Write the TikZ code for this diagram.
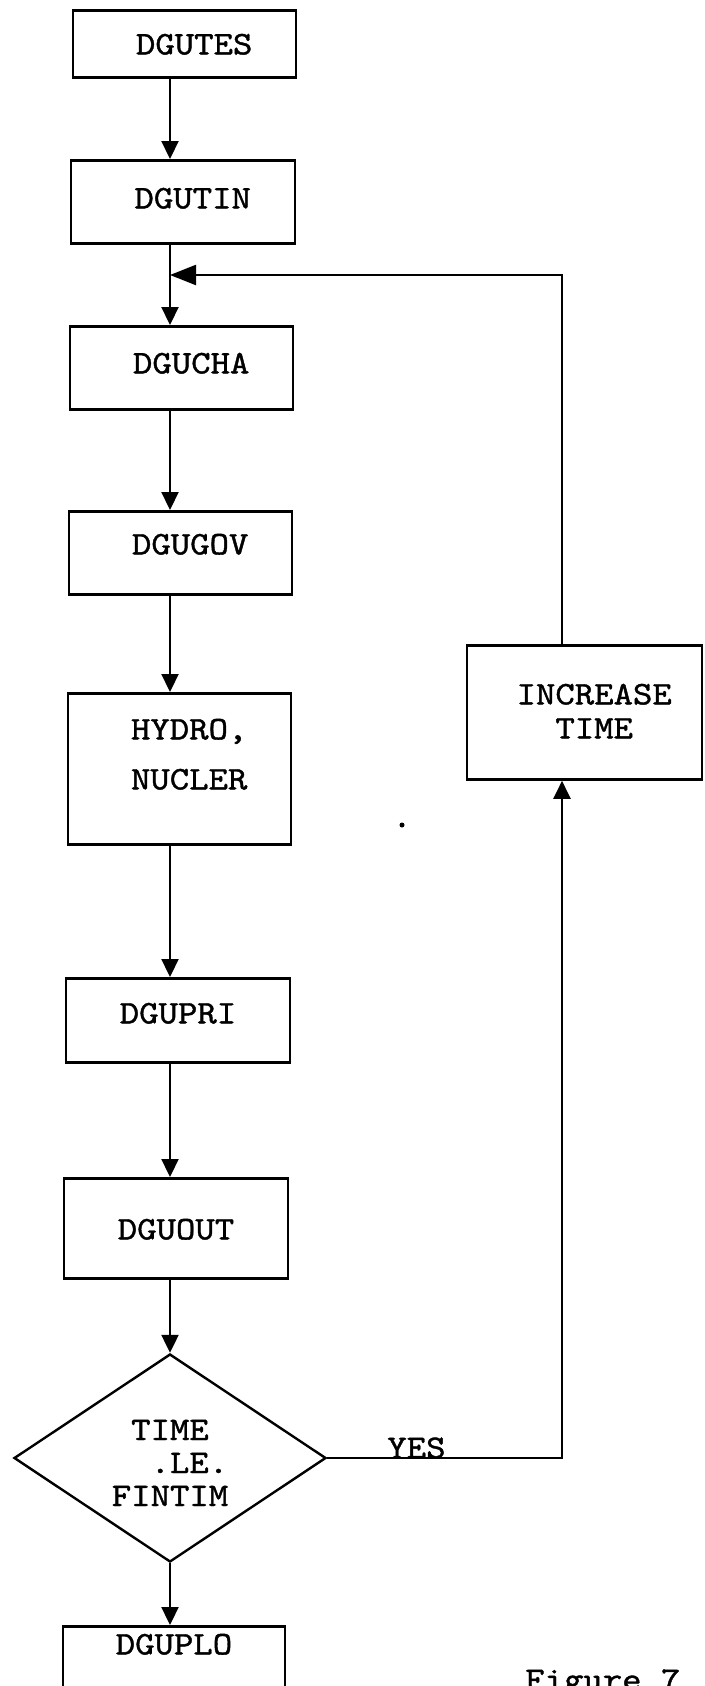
\documentclass[tikz,border=0pt]{standalone}
\usepackage{fontspec}
\newfontfamily\typer{lmmono10-regular}[Extension=.otf,FakeStretch=1.12,FakeBold=1.2]
\usetikzlibrary{arrows.meta,shapes.geometric}

\begin{document}
\begin{tikzpicture}[x=1pt,y=-1pt,
  lbl/.style={font=\typer\fontsize{33}{33}\selectfont},
  box/.style={draw,line width=2.8pt,inner sep=0pt,anchor=north,minimum width=223pt,lbl},
  flow/.style={line width=2.2pt,-{Triangle[length=18pt,width=17pt]}},
  back/.style={line width=2.2pt,-{Triangle[length=26pt,width=20pt]}}]
\useasboundingbox (0,0) rectangle (704,1686);
\clip (0,0) rectangle (704,1686);
\node[box,text height=44pt,text depth=23pt](tes) at (184.5,9){\ DGUTES};
\node[box,text height=48pt,text depth=35pt,minimum width=224pt](tin) at (183,159){\ DGUTIN};
\node[box,text height=47pt,text depth=36pt](cha) at (181.5,325){\ DGUCHA};
\node[box,text height=43pt,text depth=40pt](gov) at (180.5,510){\ DGUGOV};
\node[box,text height=46pt,text depth=105pt](hyd) at (179.5,692)
  {\ \begin{tabular}[t]{@{}l@{}}HYDRO,\\[17pt]NUCLER\end{tabular}};
\node[box,text height=45pt,text depth=39pt,minimum width=224pt](pri) at (178,977){DGUPRI\ };
\node[box,text height=61pt,text depth=39pt,minimum width=224pt](out) at (176,1177){DGUOUT\ };
\node[draw,line width=2.4pt,shape=diamond,aspect=1.5,minimum width=312pt,minimum height=208pt,
  inner sep=0pt,text height=25pt,text depth=61pt,lbl](test) at (170,1458)
  {\begin{tabular}[t]{@{}l@{}}\ TIME\\\ \ .LE.\\FINTIM\end{tabular}};
\node[box,text height=28pt,text depth=147pt,minimum width=222pt](plo) at (174,1625){DGUPLO\ };
\node[box,text height=59pt,text depth=75pt,minimum width=235pt](inc) at (584.5,644)
  {\ \begin{tabular}[t]{@{}c@{}}INCREASE\\[1pt]TIME\end{tabular}};
\coordinate (turn) at (562,275);
\coordinate (merge) at (test.north |- turn);
\foreach \a/\b in {tes/tin,tin/cha,cha/gov,gov/hyd,hyd/pri,pri/out,out/test}
  \draw[flow](\a.south -| test.north)--(\b.north -| test.north);
\draw[flow](test.south)--(plo.north -| test.south);
\draw[back](inc.north -| turn)--(turn)--(merge);
\draw[flow](test.east)--node[lbl,pos=0.38,anchor=base,inner sep=0pt](yes){YES}(test.east -| turn)--(inc.south -| turn);
\fill (402,825) circle[radius=2.5pt];
\node[lbl,anchor=base west,inner sep=0pt](fig) at (525,1690){Figure 7};
\end{tikzpicture}
\end{document}
